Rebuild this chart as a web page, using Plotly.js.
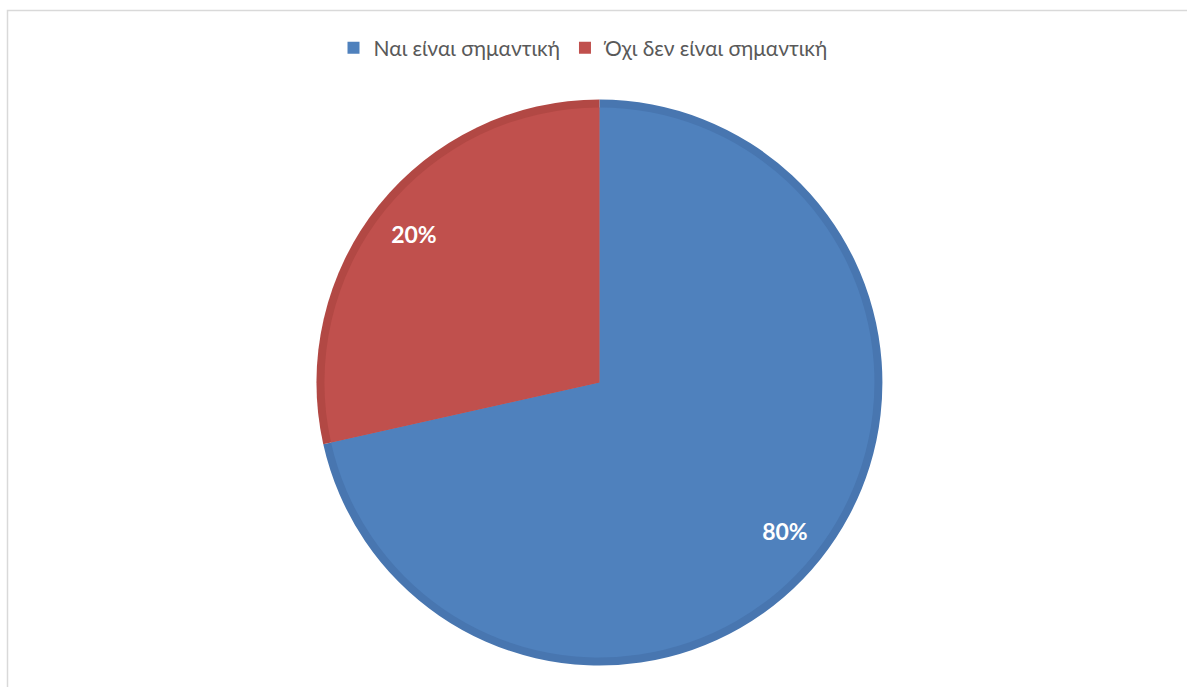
<!DOCTYPE html>
<html>
<head>
<meta charset="utf-8">
<script src="https://cdn.plot.ly/plotly-3.0.1.min.js"></script>
<style>html,body{margin:0;padding:0;background:#fff;}#chart{width:1187px;height:687px;}</style>
</head>
<body>
<div id="chart"></div>
<script>
const categories = ["Ναι είναι σημαντική", "Όχι δεν είναι σημαντική"];
const sliceValues = [71.5, 28.5];
// Data labels as printed on the chart
const dataLabels = ["80%", "20%"];
const mainColors = ["#4f81bd", "#c0504d"];
const edgeColors = ["#4876b0", "#b24844"];

const common = {
  type: "pie",
  labels: categories,
  values: sliceValues,
  sort: false,
  direction: "clockwise",
  rotation: 0,
  hoverinfo: "skip"
};

const background = Object.assign({}, common, {
  textinfo: "none",
  showlegend: false,
  marker: {colors: edgeColors, line: {width: 0}},
  domain: {x: [0.2, 0.81], y: [0.0313, 0.8551]}
});
const foreground = Object.assign({}, common, {
  textinfo: "none",
  marker: {colors: mainColors, line: {width: 0}},
  domain: {x: [0.2, 0.81], y: [0.0429, 0.8435]}
});
const labelRing = Object.assign({}, common, {
  text: dataLabels,
  textinfo: "text",
  textposition: "inside",
  insidetextorientation: "horizontal",
  insidetextfont: {family: "Lato, 'Open Sans', sans-serif", size: 23, color: "#ffffff", weight: "bold"},
  hole: 0.68,
  showlegend: false,
  marker: {colors: ["rgba(0,0,0,0)", "rgba(0,0,0,0)"], line: {width: 0}},
  domain: {x: [0.2, 0.81], y: [0.0313, 0.8551]}
});

const layout = {
  width: 1187,
  height: 687,
  margin: {l: 0, r: 0, t: 0, b: 0},
  paper_bgcolor: "#ffffff",
  showlegend: true,
  legend: {
    orientation: "h",
    x: 0.492, xanchor: "center",
    y: 0.930, yanchor: "middle",
    font: {family: "Lato, 'Open Sans', sans-serif", size: 21, color: "#595959"},
    traceorder: "normal"
  },
  shapes: [{
    type: "rect", xref: "paper", yref: "paper",
    x0: 7.5/1187, x1: 1.02, y0: -0.02, y1: 1 - 10.5/687,
    line: {color: "#d9d9d9", width: 1.5}, fillcolor: "rgba(0,0,0,0)", layer: "below"
  }]
};

Plotly.newPlot("chart", [background, foreground, labelRing], layout, {displayModeBar: false, staticPlot: true});
</script>
</body>
</html>
